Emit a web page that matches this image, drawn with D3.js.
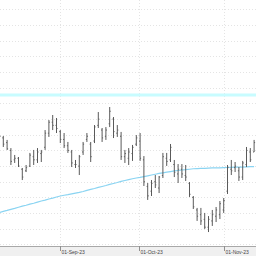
<!DOCTYPE html>
<html>
<head>
<meta charset="utf-8">
<script src="https://cdn.jsdelivr.net/npm/d3@7"></script>
<style>
  html, body { margin: 0; padding: 0; background: #fff; }
  svg { display: block; }
</style>
</head>
<body>
<div id="chart"></div>
<script>
// OHLC values, one per trading day
var opens  = [12.3, 11.8, 11.5, 11.0, 10.4, 10.5, 9.8, 9.7, 10.0, 10.6, 10.4, 10.8, 11.2, 12.1, 12.8, 12.6,
              12.2, 11.7, 11.3, 10.9, 10.1, 10.0, 10.9, 11.7, 11.4, 11.6, 12.6, 12.3, 11.9, 12.7, 13.0, 12.1,
              11.9, 10.6, 10.5, 10.8, 11.4, 11.6, 10.4, 8.7, 8.4, 9.0, 8.6, 9.4, 10.5, 10.4, 10.1, 9.5,
              9.8, 9.4, 8.9, 8.0, 7.2, 6.9, 6.6, 6.1, 6.5, 6.8, 6.9, 7.2, 8.4, 9.8, 9.9, 9.7, 9.3, 10.1, 10.9, 10.9];
var highs  = [12.43, 11.92, 11.67, 11.15, 10.71, 10.58, 9.88, 10.07, 10.84, 11.03, 11.15, 11.03, 12.30, 12.94, 13.26, 13.07,
              12.30, 12.11, 11.54, 11.03, 10.39, 10.71, 11.54, 12.11, 11.54, 12.62, 13.45, 12.43, 12.49, 13.77, 13.13, 12.62,
              12.18, 11.03, 11.15, 11.35, 11.98, 12.11, 10.64, 8.92, 9.11, 9.43, 9.37, 10.84, 10.84, 11.41, 10.39, 10.13,
              10.13, 10.07, 8.98, 8.09, 7.33, 7.33, 7.01, 6.81, 7.20, 7.39, 7.77, 7.96, 10.07, 10.39, 10.26, 9.94, 10.33, 11.22, 11.15, 11.67];
var lows   = [11.79, 11.22, 11.03, 10.07, 10.20, 9.94, 9.11, 9.62, 9.94, 10.07, 10.20, 10.26, 11.03, 11.86, 12.30, 12.11,
              11.47, 11.15, 10.84, 9.94, 9.88, 9.43, 10.71, 11.54, 10.26, 11.47, 12.43, 11.54, 11.67, 12.49, 11.79, 11.86,
              10.39, 10.20, 10.07, 10.33, 11.28, 10.33, 8.73, 7.84, 8.09, 8.60, 8.28, 9.24, 10.01, 10.26, 9.30, 8.92,
              9.24, 9.05, 8.03, 7.26, 6.50, 6.24, 5.99, 5.79, 6.18, 6.43, 6.62, 7.01, 8.22, 9.43, 9.62, 9.05, 9.11, 9.94, 10.26, 10.90];
var closes = [11.9, 11.4, 11.1, 10.3, 10.5, 10.0, 9.3, 9.9, 10.7, 10.4, 10.9, 10.9, 12.1, 12.8, 12.6, 12.4,
              11.7, 11.3, 11.0, 10.2, 10.1, 10.6, 11.4, 11.9, 10.6, 12.5, 13.0, 11.8, 12.3, 13.5, 12.2, 12.3,
              10.6, 10.8, 10.9, 11.2, 11.8, 10.5, 9.0, 8.1, 8.9, 8.8, 9.3, 10.6, 10.3, 11.2, 9.6, 9.8,
              9.5, 9.3, 8.2, 7.4, 6.8, 6.5, 6.1, 6.6, 6.9, 7.2, 7.6, 7.8, 9.9, 9.7, 10.0, 9.3, 10.2, 11.0, 10.4, 11.5];

// long moving average
var maValues = [7.04, 7.11, 7.17, 7.24, 7.30, 7.37, 7.44, 7.50, 7.57, 7.63, 7.70, 7.77, 7.83, 7.90, 7.96, 8.03,
                8.09, 8.14, 8.18, 8.23, 8.28, 8.32, 8.38, 8.45, 8.51, 8.57, 8.64, 8.70, 8.76, 8.83, 8.89, 8.95,
                9.02, 9.08, 9.14, 9.19, 9.24, 9.28, 9.33, 9.38, 9.43, 9.48, 9.53, 9.57, 9.61, 9.65, 9.69, 9.72,
                9.75, 9.77, 9.80, 9.83, 9.84, 9.85, 9.86, 9.87, 9.88, 9.89, 9.89, 9.90, 9.91, 9.92, 9.93, 9.93, 9.94, 9.95, 9.96, 9.97];

// horizontal level line
var levelValue = 14.54;

// y gridline values and date ticks (position in trading days)
var gridValues = [5, 6, 7, 8, 9, 10, 11, 12, 13, 14, 15, 16, 17, 18, 19, 20];
var tickIndex  = [16, 36.8, 59];
var tickLabels = ["01-Sep-23", "01-Oct-23", "01-Nov-23"];

var width = 256, height = 256, plotBottom = 246;

var svg = d3.select("#chart").append("svg")
    .attr("width", width)
    .attr("height", height);

var x = d3.scaleLinear().domain([0, 67]).range([-0.5, 254.1]);
var y = d3.scaleLinear().domain([4.9, 20.6]).range([plotBottom, 0]);

// grid
svg.append("g").selectAll("line.hgrid")
    .data(gridValues)
  .enter().append("line")
    .attr("x1", 0).attr("x2", width)
    .attr("y1", d => Math.round(y(d)) + 0.5)
    .attr("y2", d => Math.round(y(d)) + 0.5)
    .attr("stroke", "#e4e4e4")
    .attr("stroke-dasharray", "1,2");

svg.append("g").selectAll("line.vgrid")
    .data(tickIndex)
  .enter().append("line")
    .attr("x1", d => Math.round(x(d)) + 0.5)
    .attr("x2", d => Math.round(x(d)) + 0.5)
    .attr("y1", 0).attr("y2", plotBottom)
    .attr("stroke", "#e4e4e4")
    .attr("stroke-dasharray", "1,2");

// level line
svg.append("line")
    .attr("x1", 0).attr("x2", width)
    .attr("y1", y(levelValue)).attr("y2", y(levelValue))
    .attr("stroke", "#c8fcff")
    .attr("stroke-width", 3);

// moving average
var maLine = d3.line()
    .x((d, i) => x(i))
    .y(d => y(d));

svg.append("path")
    .attr("d", maLine(maValues))
    .attr("fill", "none")
    .attr("stroke", "#8ad4f2")
    .attr("stroke-width", 1.2);

// OHLC bars
var bars = svg.append("g");
opens.forEach((o, i) => {
  var cx = x(i);
  var p = d3.path();
  p.moveTo(cx, y(highs[i]));
  p.lineTo(cx, y(lows[i]));
  p.moveTo(cx - 1, y(o));
  p.lineTo(cx, y(o));
  p.moveTo(cx, y(closes[i]));
  p.lineTo(cx + 1, y(closes[i]));
  bars.append("path")
      .attr("d", p.toString())
      .attr("fill", "none")
      .attr("stroke", "#5a5a5a")
      .attr("stroke-width", 1);
});

// bottom axis band
svg.append("rect")
    .attr("x", 0).attr("y", plotBottom)
    .attr("width", width).attr("height", height - plotBottom)
    .attr("fill", "#f0f0f0");

svg.append("line")
    .attr("x1", 0).attr("x2", width)
    .attr("y1", plotBottom + 0.5).attr("y2", plotBottom + 0.5)
    .attr("stroke", "#a8a8a8");

var ticks = svg.append("g").selectAll("g")
    .data(tickIndex)
  .enter().append("g")
    .attr("transform", d => "translate(" + (Math.round(x(d)) + 0.5) + "," + plotBottom + ")");

ticks.append("line")
    .attr("y1", 0).attr("y2", 5)
    .attr("stroke", "#909090");

ticks.append("text")
    .attr("x", 1)
    .attr("y", 7.6)
    .attr("font-family", "Liberation Sans, Arial, sans-serif")
    .attr("font-size", 5)
    .attr("fill", "#444")
    .text((d, i) => tickLabels[i]);
</script>
</body>
</html>
